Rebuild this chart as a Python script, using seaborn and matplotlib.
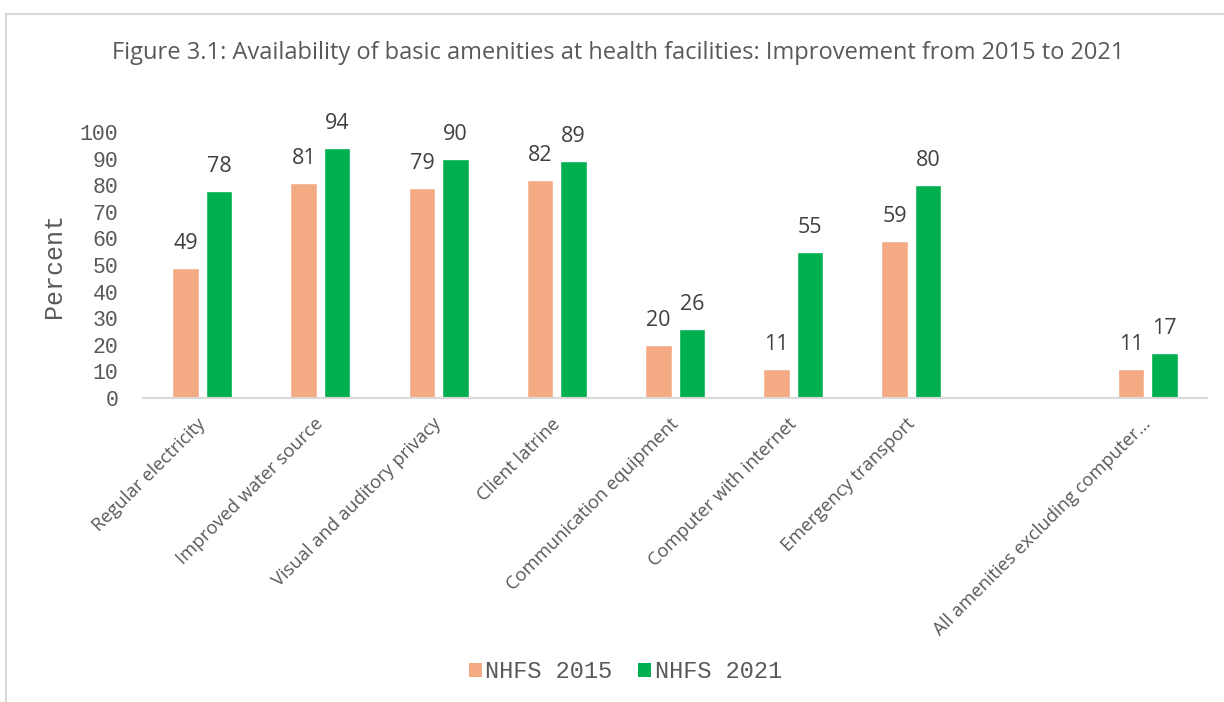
import matplotlib
matplotlib.use("Agg")
import matplotlib.pyplot as plt
from matplotlib.lines import Line2D
from matplotlib.patches import Patch
from matplotlib.transforms import ScaledTranslation
import seaborn as sns
import pandas as pd

# Amenity categories; the blank slot keeps a gap before the summary group
categories = [
    "Regular electricity",
    "Improved water source",
    "Visual and auditory privacy",
    "Client latrine",
    "Communication equipment",
    "Computer with internet",
    "Emergency transport",
    " ",
    "All amenities excluding computer\u2026",
]
series_names = ["NHFS 2015", "NHFS 2021"]
values_2015 = [49, 81, 79, 82, 20, 11, 59, None, 11]
values_2021 = [78, 94, 90, 89, 26, 55, 80, None, 17]
y_ticks = list(range(0, 101, 10))

title_text = "Figure 3.1: Availability of basic amenities at health facilities: Improvement from 2015 to 2021"
colors = {"NHFS 2015": "#F4AB84", "NHFS 2021": "#00B050"}
text_gray = "#595959"
sans = ["Open Sans", "DejaVu Sans"]
mono = ["Liberation Mono", "DejaVu Sans Mono"]

rows = []
for cat, a, b in zip(categories, values_2015, values_2021):
    if a is not None:
        rows.append({"Amenity": cat, "Survey": series_names[0], "Percent": a})
    if b is not None:
        rows.append({"Amenity": cat, "Survey": series_names[1], "Percent": b})
df = pd.DataFrame(rows)

sns.set_theme(style="white")
plt.rcParams["font.family"] = sans

fig = plt.figure(figsize=(12.24, 7.02), dpi=100)
ax = fig.add_axes([0.117, 0.433, 0.869, 0.379])

sns.barplot(
    data=df, x="Amenity", y="Percent", hue="Survey",
    order=categories, hue_order=series_names, palette=colors,
    width=0.567, gap=0.21, saturation=1, errorbar=None,
    legend=False, ax=ax,
)

for container in ax.containers:
    ax.bar_label(container, fmt="%d", padding=10, fontsize=15.5,
                 color="#404040", family=sans)

ax.set_xlim(-0.5, len(categories) - 0.5)
ax.set_ylim(0, 100)
ax.set_yticks(y_ticks)
ax.set_yticklabels([str(v) for v in y_ticks], family=mono, fontsize=15.5,
                   color=text_gray)
ax.tick_params(axis="y", length=0, pad=18)
ax.tick_params(axis="x", length=0, pad=12)
ax.set_xticks(range(len(categories)))
ax.set_xticklabels(categories, rotation=45, ha="right", va="top",
                   rotation_mode="anchor", fontsize=13.2, color=text_gray,
                   family=sans)
shift = ScaledTranslation(-6 / 100, 0, fig.dpi_scale_trans)
for lbl in ax.get_xticklabels():
    lbl.set_transform(lbl.get_transform() + shift)
ax.set_xlabel("")
ax.set_ylabel("Percent", family=mono, fontsize=18, color=text_gray, labelpad=10)

for side in ["top", "right", "left"]:
    ax.spines[side].set_visible(False)
ax.spines["bottom"].set_color("#D9D9D9")
ax.spines["bottom"].set_linewidth(1.5)

fig.text(0.505, 0.925, title_text, ha="center", va="center",
         fontsize=17, color=text_gray, family=sans)

handles = [Patch(facecolor=colors[s], edgecolor="none", label=s) for s in series_names]
leg = fig.legend(handles=handles, loc="center", bbox_to_anchor=(0.511, 0.043),
                 ncol=2, frameon=False, handlelength=0.55, handleheight=0.55,
                 handletextpad=0.15, columnspacing=1.1,
                 prop={"family": mono, "size": 17})
for t in leg.get_texts():
    t.set_color(text_gray)

# Chart-area border (left and top edges)
fig.add_artist(Line2D([6 / 1224, 6 / 1224], [0, 1 - 14 / 702],
                      transform=fig.transFigure, color="#D9D9D9", lw=1.5))
fig.add_artist(Line2D([6 / 1224, 1], [1 - 14 / 702, 1 - 14 / 702],
                      transform=fig.transFigure, color="#D9D9D9", lw=1.5))

fig.savefig("out.png", dpi=100, facecolor="white")
